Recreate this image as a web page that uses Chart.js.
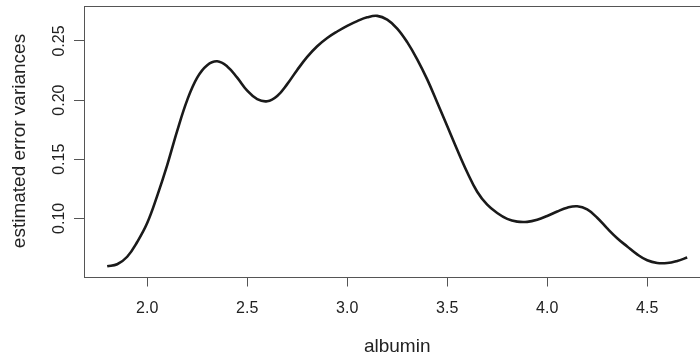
<!DOCTYPE html>
<html lang="en">
<head>
<meta charset="UTF-8">
<title>estimated error variances vs albumin</title>
<script src="https://cdn.jsdelivr.net/npm/chart.js"></script>
<style>
    html, body {
        margin: 0;
        padding: 0;
        overflow: hidden;
        background: #fff;
    }
    canvas {
        display: block;
    }
</style>
</head>
<body>

<canvas id="varianceChart" width="720" height="357"></canvas>

<script>
// values
var albumin = [1.80, 1.85, 1.90, 1.95, 2.00, 2.05, 2.10, 2.15, 2.20, 2.25,
               2.30, 2.35, 2.40, 2.45, 2.50, 2.55, 2.60, 2.65, 2.70, 2.75,
               2.80, 2.85, 2.90, 2.95, 3.00, 3.05, 3.10, 3.15, 3.20, 3.25,
               3.30, 3.35, 3.40, 3.45, 3.50, 3.55, 3.60, 3.65, 3.70, 3.75,
               3.80, 3.85, 3.90, 3.95, 4.00, 4.05, 4.10, 4.15, 4.20, 4.25,
               4.30, 4.35, 4.40, 4.45, 4.50, 4.55, 4.60, 4.65, 4.70];
var errorVariance = [0.0595, 0.0612, 0.0675, 0.080, 0.096, 0.119, 0.145, 0.174, 0.200, 0.219,
                     0.2295, 0.2328, 0.2285, 0.219, 0.208, 0.2008, 0.1990, 0.2035, 0.2135, 0.2255,
                     0.2365, 0.2455, 0.2525, 0.258, 0.2628, 0.2668, 0.2700, 0.2712, 0.2680, 0.2605,
                     0.2490, 0.2345, 0.2175, 0.198, 0.178, 0.158, 0.139, 0.1225, 0.1115, 0.1045,
                     0.0995, 0.0972, 0.0970, 0.0988, 0.1020, 0.1058, 0.1090, 0.1102, 0.1075, 0.1005,
                     0.0915, 0.0832, 0.0762, 0.0695, 0.0645, 0.0622, 0.0622, 0.0640, 0.0668];
var xTickValues = [2.0, 2.5, 3.0, 3.5, 4.0, 4.5];
var yTickValues = [0.10, 0.15, 0.20, 0.25];

var fontFamily = '"Liberation Sans", Arial, Helvetica, sans-serif';
var axisColor = '#555';
var textColor = '#222';

var points = albumin.map((x, i) => ({ x: x, y: errorVariance[i] }));

// R-style box round the plot area, and rotated y tick labels
var rBoxPlugin = {
    id: 'rBox',
    afterDraw: function (chart) {
        var ctx = chart.ctx;
        var area = chart.chartArea;
        ctx.save();
        ctx.strokeStyle = axisColor;
        ctx.lineWidth = 1;
        ctx.strokeRect(Math.round(area.left) + 0.5, Math.round(area.top) + 0.5,
                       Math.round(area.right - area.left), Math.round(area.bottom - area.top));

        var yScale = chart.scales.y;
        ctx.fillStyle = textColor;
        ctx.font = '16px ' + fontFamily;
        ctx.textAlign = 'center';
        ctx.textBaseline = 'alphabetic';
        yScale.ticks.forEach(function (t) {
            var py = yScale.getPixelForValue(t.value);
            ctx.save();
            ctx.translate(63.5, py);
            ctx.rotate(-Math.PI / 2);
            ctx.fillText(t.value.toFixed(2), 0, 0);
            ctx.restore();
        });
        ctx.restore();
    }
};

var ctxVariance = document.getElementById('varianceChart').getContext('2d');
var varianceChart = new Chart(ctxVariance, {
    type: 'line',
    data: {
        datasets: [{
            data: points,
            borderColor: '#1a1a1a',
            borderWidth: 2.6,
            pointRadius: 0,
            fill: false,
            tension: 0.4
        }]
    },
    options: {
        responsive: false,
        animation: false,
        devicePixelRatio: 1,
        layout: {
            padding: { top: 5.5, right: 9.6, left: 0, bottom: 0 }
        },
        plugins: {
            legend: { display: false },
            tooltip: { enabled: false }
        },
        scales: {
            x: {
                type: 'linear',
                min: 1.684,
                max: 4.816,
                afterBuildTicks: function (scale) {
                    scale.ticks = xTickValues.map(v => ({ value: v }));
                },
                afterFit: function (scale) {
                    scale.height = 80.5;
                },
                border: { display: false },
                grid: {
                    drawOnChartArea: false,
                    drawTicks: true,
                    tickLength: 10,
                    color: axisColor,
                    lineWidth: 1
                },
                ticks: {
                    padding: 12,
                    color: textColor,
                    maxRotation: 0,
                    font: { family: fontFamily, size: 16 },
                    callback: function (v) { return v.toFixed(1); }
                },
                title: {
                    display: true,
                    text: 'albumin',
                    color: textColor,
                    font: { family: fontFamily, size: 19 },
                    padding: { top: 0, bottom: -1 }
                }
            },
            y: {
                type: 'linear',
                min: 0.0508,
                max: 0.28,
                afterBuildTicks: function (scale) {
                    scale.ticks = yTickValues.map(v => ({ value: v }));
                },
                afterFit: function (scale) {
                    scale.width = 84;
                },
                border: { display: false },
                grid: {
                    drawOnChartArea: false,
                    drawTicks: true,
                    tickLength: 10,
                    color: axisColor,
                    lineWidth: 1
                },
                ticks: {
                    display: false
                },
                title: {
                    display: true,
                    text: 'estimated error variances',
                    color: textColor,
                    font: { family: fontFamily, size: 19 },
                    padding: { top: 8.6, bottom: 0 }
                }
            }
        }
    },
    plugins: [rBoxPlugin]
});
</script>

</body>
</html>
